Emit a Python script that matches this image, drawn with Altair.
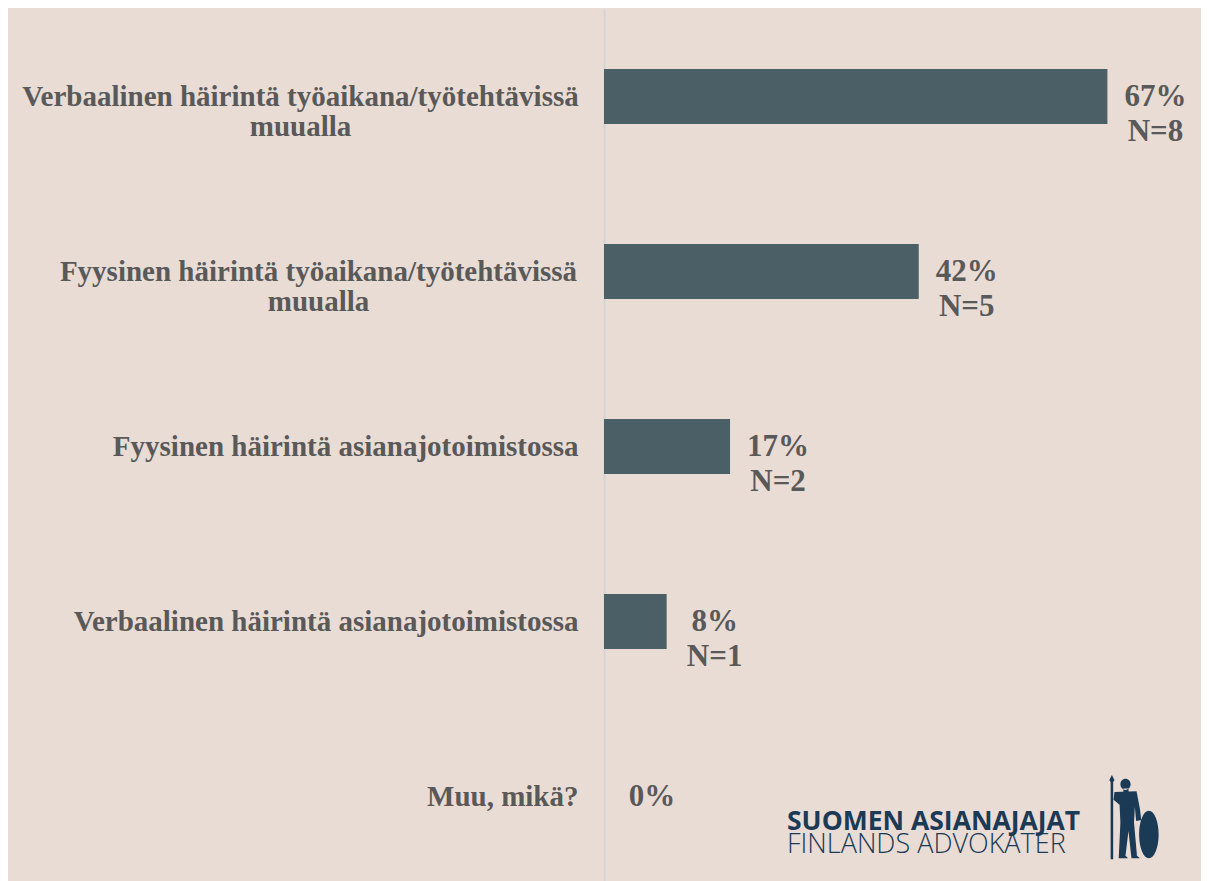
import altair as alt
import pandas as pd

categories = [
    "Verbaalinen häirintä työaikana/työtehtävissä\nmuualla",
    "Fyysinen häirintä työaikana/työtehtävissä\nmuualla",
    "Fyysinen häirintä asianajotoimistossa",
    "Verbaalinen häirintä asianajotoimistossa",
    "Muu, mikä?",
]
percent = [66.7, 41.7, 16.7, 8.3, 0.0]
counts = [8, 5, 2, 1, 0]
pct_labels = ["67%", "42%", "17%", "8%", "0%"]

value_text = [f"{p}\nN={n}" if n > 0 else p for p, n in zip(pct_labels, counts)]
df = pd.DataFrame({"cat": categories, "pct": percent, "label": value_text})

BG = "#E9DCD5"
BAR = "#4A5F66"
TXT = "#595959"
NAVY = "#1B3A56"
SERIF = "Liberation Serif"

multi = "indexof(datum.value, '\\n') >= 0"
verb = "indexof(datum.value, 'Verbaalinen häirintä työaikana') == 0"

y_enc = alt.Y(
    "cat:N",
    sort=None,
    title=None,
    scale=alt.Scale(paddingInner=0.685, paddingOuter=0.3425),
    axis=alt.Axis(
        labelExpr="split(datum.label, '\\n')",
        labelFont=SERIF,
        labelFontSize=29,
        labelFontWeight="bold",
        labelColor=TXT,
        labelLineHeight=30,
        labelLimit=0,
        labelBaseline="middle",
        labelAlign={"condition": {"test": multi, "value": "center"}, "value": "right"},
        labelPadding={
            "condition": [
                {"test": verb, "value": 304},
                {"test": multi, "value": 286},
            ],
            "value": 26,
        },
        ticks=False,
        domainColor="#D8D4D3",
        domainWidth=2,
    ),
)
x_enc = alt.X("pct:Q", scale=alt.Scale(domain=[0, 79.1]), axis=None)

bars = alt.Chart(df).mark_bar(color=BAR).encode(x=x_enc, y=y_enc)
texts = alt.Chart(df).mark_text(
    align="center", baseline="middle", dx=48, lineBreak="\n", lineHeight=35,
    font=SERIF, fontSize=31, fontWeight="bold", color=TXT,
).encode(x=x_enc, y=y_enc, text="label:N")

logo1 = alt.Chart(pd.DataFrame({"t": ["SUOMEN ASIANAJAJAT"]})).mark_text(
    align="left", baseline="alphabetic", font="Open Sans", fontSize=26.5,
    fontWeight="bold", color=NAVY,
).encode(x=alt.value(183), y=alt.value(821), text="t:N")
logo2 = alt.Chart(pd.DataFrame({"t": ["FINLANDS ADVOKATER"]})).mark_text(
    align="left", baseline="alphabetic", font="Open Sans", fontSize=27,
    fontWeight=300, color=NAVY,
).encode(x=alt.value(183), y=alt.value(844), text="t:N")

figure_path = (
    "M-0.55,-0.9 L-0.49,-0.9 L-0.49,0.98 L-0.55,0.98 Z "
    "M-0.52,-1 L-0.46,-0.88 L-0.52,-0.78 L-0.58,-0.88 Z "
    "M-0.32,-0.78 A0.12,0.13 0 1,0 -0.08,-0.78 A0.12,0.13 0 1,0 -0.32,-0.78 Z "
    "M-0.25,-0.68 L-0.13,-0.68 L-0.13,-0.58 L-0.25,-0.58 Z "
    "M-0.46,-0.6 L0.06,-0.62 L0.14,-0.2 L0.17,0.06 L0.05,0.08 L0.02,-0.25 "
    "L0.0,0.12 L0.07,0.9 L0.14,0.96 L-0.06,0.96 L-0.13,0.32 L-0.2,0.9 "
    "L-0.14,0.96 L-0.36,0.96 L-0.32,0.12 L-0.34,-0.3 L-0.48,-0.42 Z "
    "M0.12,0.4 A0.23,0.56 0 1,0 0.58,0.4 A0.23,0.56 0 1,0 0.12,0.4 Z"
)
figure = alt.Chart(pd.DataFrame({"k": [0]})).mark_point(
    shape=figure_path, size=7225, filled=True, opacity=1, color=NAVY, strokeWidth=0,
).encode(x=alt.value(530), y=alt.value(808.5))

chart = alt.layer(bars, texts, logo1, logo2, figure).properties(
    width=597, height=875,
    background=BG,
    autosize=alt.AutoSizeParams(type="none"),
    padding={"left": 596, "top": 1, "right": 0, "bottom": 0},
).configure_view(stroke=None)

chart.save("out.html", embed_options={"renderer": "svg", "actions": False})
